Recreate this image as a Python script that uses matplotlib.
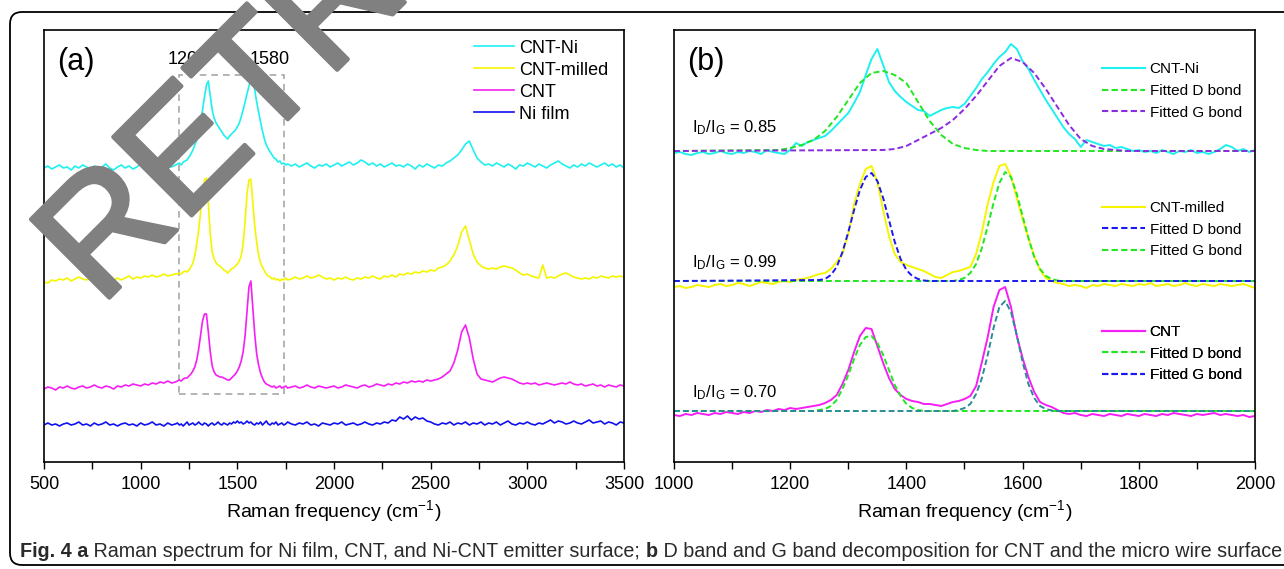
import matplotlib
matplotlib.use("Agg")
import matplotlib.pyplot as plt
import numpy as np
from matplotlib import font_manager
from matplotlib import patheffects
from matplotlib.lines import Line2D
from matplotlib.patches import FancyBboxPatch, Rectangle
from matplotlib.transforms import IdentityTransform

plt.rcParams['font.family'] = ['Liberation Sans', 'DejaVu Sans']
plt.rcParams['mathtext.default'] = 'regular'

# ---------------- panel (a): full spectra, offset intensities (a.u.) ----------------
# sampling: 500-1180 step 20, 1190-1760 step 10, 1780-3500 step 20
raman_a = np.concatenate([np.arange(500, 1181, 20), np.arange(1190, 1761, 10), np.arange(1780, 3501, 20)])

cnt_ni_a = [
    294, 296, 293, 295, 297, 294, 295, 292, 296, 294,
    297, 295, 293, 296, 294, 295, 298, 294, 292, 295,
    297, 294, 296, 293, 295, 298, 295, 294, 297, 295,
    293, 296, 298, 295, 297,
    298, 299, 297, 300, 301, 302, 305, 308, 312, 317,
    322, 330, 340, 352, 365, 377, 381, 366, 352, 344,
    339, 336, 333, 330, 327, 325, 323, 326, 328, 330,
    332, 335, 339, 345, 352, 360, 368, 376, 383, 386,
    372, 360, 350, 340, 331, 323, 317, 313, 310, 307,
    304, 303, 300, 301, 298, 299, 297, 298,
    296, 298, 295, 297, 299, 296, 294, 297, 296, 298,
    295, 297, 299, 296, 298, 300, 297, 299, 302, 300,
    297, 299, 296, 298, 295, 297, 299, 296, 297, 295,
    298, 296, 293, 297, 295, 298, 296, 294, 297, 296,
    299, 301, 304, 307, 312, 318, 321, 312, 304, 300,
    297, 298, 296, 299, 297, 295, 298, 296, 293, 297,
    296, 299, 297, 295, 298, 296, 294, 297, 299, 301,
    298, 296, 294, 297, 295, 298, 296, 299, 297, 295,
    297, 299, 296, 298, 295, 297, 294,
]
cnt_milled_a = [
    180, 179, 182, 181, 183, 182, 184, 181, 183, 185,
    183, 182, 184, 186, 183, 182, 185, 183, 181, 184,
    182, 184, 186, 183, 185, 184, 186, 185, 187, 185,
    186, 188, 186, 187, 188,
    188, 189, 188, 190, 191, 190, 192, 195, 199, 206,
    218, 232, 250, 270, 282, 284, 258, 228, 210, 203,
    199, 197, 196, 194, 192, 191, 189, 191, 193, 194,
    196, 198, 201, 206, 218, 240, 268, 282, 283, 260,
    236, 220, 207, 199, 195, 191, 188, 186, 185, 183,
    184, 182, 183, 181, 183, 182, 184, 182,
    183, 185, 183, 184, 186, 184, 185, 187, 185, 183,
    184, 182, 184, 183, 185, 183, 182, 184, 183, 185,
    184, 186, 184, 183, 186, 185, 187, 185, 188, 187,
    189, 188, 190, 189, 191, 190, 192, 191, 194, 195,
    197, 201, 207, 216, 230, 236, 222, 208, 200, 196,
    194, 193, 194, 193, 195, 196, 195, 194, 192, 189,
    187, 188, 186, 185, 184, 197, 184, 185, 184, 186,
    188, 189, 187, 185, 184, 183, 184, 183, 185, 184,
    186, 185, 184, 186, 185, 186, 185,
]
cnt_a = [
    73, 75, 74, 72, 75, 74, 76, 74, 73, 75,
    76, 74, 75, 77, 75, 74, 76, 75, 73, 76,
    75, 77, 76, 78, 77, 76, 78, 77, 79, 78,
    80, 79, 81, 79, 80,
    81, 82, 81, 83, 84, 84, 86, 88, 91, 95,
    102, 113, 127, 141, 148, 148, 130, 110, 96, 90,
    87, 86, 85, 85, 84, 83, 82, 82, 84, 86,
    88, 91, 95, 101, 110, 126, 150, 175, 181, 155,
    128, 108, 97, 89, 84, 80, 78, 77, 76, 75,
    76, 74, 75, 76, 74, 75, 76, 74,
    75, 76, 74, 75, 77, 75, 74, 76, 75, 74,
    75, 76, 74, 75, 77, 76, 75, 74, 76, 77,
    75, 76, 78, 77, 76, 78, 77, 79, 78, 80,
    79, 81, 80, 81, 80, 82, 81, 82, 83, 85,
    88, 91, 99, 112, 130, 137, 124, 103, 88, 83,
    82, 81, 80, 82, 84, 85, 84, 83, 81, 79,
    78, 79, 78, 79, 77, 78, 79, 78, 77, 78,
    79, 78, 80, 78, 77, 78, 76, 77, 78, 76,
    77, 75, 77, 76, 75, 77, 76,
]
ni_film_a = [
    37, 39, 37, 38, 36, 38, 39, 37, 38, 40,
    37, 38, 36, 39, 37, 38, 40, 37, 38, 36,
    38, 39, 37, 38, 36, 39, 37, 38, 40, 37,
    38, 36, 39, 37, 38,
    39, 37, 38, 36, 38, 40, 37, 38, 39, 37,
    38, 40, 38, 37, 39, 38, 36, 38, 39, 37,
    38, 40, 38, 37, 39, 38, 37, 39, 38, 40,
    39, 41, 39, 40, 38, 39, 41, 39, 40, 38,
    37, 39, 38, 40, 37, 39, 41, 38, 37, 39,
    38, 40, 37, 38, 39, 37, 38, 40,
    38, 37, 39, 38, 40, 37, 38, 36, 39, 38,
    37, 39, 38, 40, 37, 38, 39, 37, 38, 40,
    38, 37, 39, 38, 40, 39, 42, 41, 45, 43,
    46, 42, 45, 43, 44, 41, 40, 38, 37, 39,
    38, 40, 37, 39, 38, 40, 37, 39, 38, 40,
    37, 39, 38, 40, 37, 39, 41, 38, 37, 39,
    38, 40, 38, 37, 39, 38, 40, 42, 39, 41,
    40, 38, 39, 41, 39, 38, 40, 42, 39, 40,
    41, 38, 40, 39, 37, 40, 39,
]
labels_a = ["CNT-Ni", "CNT-milled", "CNT", "Ni film"]
colors_a = ["#1ef0f0", "#f5f500", "#f51ef5", "#1010f0"]

# ---------------- panel (b): D / G band decomposition ----------------
raman_b = np.arange(1000, 2001, 10)

cnt_ni_b = [
    309, 310, 308, 307, 309, 310, 308, 309, 311, 309,
    308, 310, 309, 311, 310, 308, 312, 310, 309, 308,
    312, 319, 316, 320, 322, 324, 326, 331, 337, 343,
    349, 359, 370, 387, 403, 413, 397, 380, 371, 365,
    360, 356, 352, 351, 346, 349, 352, 354, 355, 354,
    358, 366, 374, 383, 390, 398, 405, 410, 418, 413,
    401, 393, 382, 372, 362, 353, 344, 335, 328, 323,
    315, 322, 320, 318, 316, 317, 314, 315, 313, 311,
    312, 310, 311, 309, 312, 310, 308, 311, 310, 312,
    309, 310, 308, 310, 313, 317, 315, 311, 313, 310,
    312,
]
cnt_milled_b = [
    175, 176, 174, 175, 177, 176, 175, 177, 178, 176,
    177, 179, 178, 176, 178, 180, 179, 178, 180, 181,
    180, 182, 183, 184, 186, 188, 189, 193, 200, 208,
    228, 258, 278, 293, 296, 280, 252, 226, 208, 200,
    197, 195, 193, 191, 188, 185, 184, 187, 190, 191,
    193, 195, 208, 230, 258, 280, 296, 298, 286, 264,
    243, 224, 206, 192, 184, 181, 179, 178, 176, 177,
    176, 174, 177, 176, 178, 177, 176, 178, 177, 176,
    178, 177, 179, 176, 177, 178, 176, 177, 179, 177,
    176, 178, 177, 176, 178, 177, 176, 177, 178, 176,
    174,
]
cnt_b = [
    47, 46, 48, 47, 49, 48, 47, 49, 48, 50,
    49, 48, 50, 49, 51, 50, 52, 51, 53, 52,
    54, 53, 54, 55, 56, 57, 59, 62, 67, 78,
    92, 110, 126, 134, 133, 116, 99, 84, 73, 67,
    63, 61, 60, 58, 58, 57, 56, 58, 60, 61,
    63, 66, 76, 100, 125, 155, 172, 175, 155, 126,
    104, 85, 70, 60, 57, 55, 52, 49, 48, 49,
    47, 46, 48, 47, 46, 48, 47, 46, 48, 47,
    46, 48, 47, 46, 48, 47, 49, 48, 47, 46,
    48, 47, 48, 49, 47, 48, 47, 46, 47, 45,
    46,
]

# fitted bands
ni_fit_d_x = [1000, 1180, 1200, 1220, 1240, 1260, 1280, 1300, 1320, 1340, 1360,
              1380, 1400, 1420, 1440, 1460, 1480, 1500, 1520, 1540, 2000]
ni_fit_d_y = [311, 312, 314, 317, 322, 331, 345, 362, 379, 389, 391,
              387, 379, 360, 341, 327, 318, 314, 312, 311, 311]
ni_fit_g_x = [1000, 1360, 1380, 1400, 1420, 1440, 1460, 1480, 1500, 1520, 1540, 1560,
              1580, 1600, 1620, 1640, 1660, 1680, 1700, 1720, 1740, 1760, 1780, 2000]
ni_fit_g_y = [311, 312, 313, 316, 322, 328, 334, 342, 353, 366, 381, 396,
              404, 400, 389, 373, 355, 337, 323, 316, 313, 312, 311, 311]

mil_fit_d_x = [1000, 1250, 1260, 1270, 1280, 1290, 1300, 1310, 1320, 1330, 1340,
               1350, 1360, 1370, 1380, 1390, 1400, 1410, 1420, 1430, 1440, 2000]
mil_fit_d_y = [181, 182, 183, 187, 195, 210, 230, 252, 272, 285, 289,
               281, 264, 242, 220, 203, 192, 186, 183, 181.5, 181, 181]
mil_fit_g_x = [1000, 1480, 1490, 1500, 1510, 1520, 1530, 1540, 1550, 1560, 1570,
               1580, 1590, 1600, 1610, 1620, 1630, 1640, 1650, 1660, 1670, 2000]
mil_fit_g_y = [181, 181, 182, 184, 189, 198, 214, 236, 259, 279, 290,
               285, 268, 246, 224, 205, 193, 186, 183, 181.5, 181, 181]

cnt_fit_d_x = [1000, 1240, 1250, 1260, 1270, 1280, 1290, 1300, 1310, 1320, 1330,
               1340, 1350, 1360, 1370, 1380, 1390, 1400, 1410, 1420, 1430, 2000]
cnt_fit_d_y = [51, 51, 52, 53, 56, 62, 73, 87, 103, 117, 125,
               126, 119, 107, 92, 77, 66, 58, 54, 52, 51, 51]
cnt_fit_g_x = [1000, 1480, 1490, 1500, 1510, 1520, 1530, 1540, 1550, 1560, 1570,
               1580, 1590, 1600, 1610, 1620, 1630, 1640, 1650, 1660, 2000]
cnt_fit_g_y = [51, 51, 52, 54, 58, 68, 84, 107, 134, 155, 161,
               150, 127, 100, 78, 64, 56, 53, 51.5, 51, 51]

ratios = ["0.85", "0.99", "0.70"]

CYAN, YELLOW, MAGENTA = "#1ef0f0", "#f5f500", "#f51ef5"
GREEN, PURPLE, BLUE, TEAL = "#22e622", "#8a2be2", "#1a1af0", "#2a8c96"
DASH = (0, (3, 1.6))


def style_axis(ax, xmin, xmax, major, minor):
    ax.set_xlim(xmin, xmax)
    ax.set_ylim(0, 432)
    ax.set_yticks([])
    ax.set_xticks(np.arange(xmin, xmax + 1, major))
    ax.set_xticks(np.arange(xmin, xmax + 1, minor), minor=True)
    ax.tick_params(axis="x", which="both", direction="out", length=5, width=1.0,
                   labelsize=13, pad=5)
    for s in ax.spines.values():
        s.set_linewidth(1.2)
    ax.set_xlabel("Raman frequency (cm$^{-1}$)", fontsize=14, labelpad=4)


def plot_panel_a(ax):
    for y, lab, col in zip([cnt_ni_a, cnt_milled_a, cnt_a, ni_film_a], labels_a, colors_a):
        ax.plot(raman_a, y, color=col, lw=1.2, label=lab)

    # highlighted D/G window
    ax.add_patch(Rectangle((1200, 68), 540, 319, fill=False, ec="#a8a8a8", lw=1.2,
                           ls=(0, (4, 3))))
    ax.text(1245, 402, "1200", fontsize=13, ha="center", va="center")
    ax.text(1493, 402, "-", fontsize=13, ha="center", va="center", color="#a0a0a0")
    ax.text(1669, 402, "1580", fontsize=13, ha="center", va="center")
    ax.text(567, 400, "(a)", fontsize=22, va="center")

    ax.legend(loc="upper left", bbox_to_anchor=(0.742, 0.978), frameon=False, fontsize=13,
              handlelength=2.2, handletextpad=0.3, labelspacing=0.28,
              borderaxespad=0, borderpad=0)
    style_axis(ax, 500, 3500, 500, 250)


def plot_panel_b(ax):
    ax.plot(raman_b, cnt_ni_b, color=CYAN, lw=1.4)
    ax.plot(ni_fit_d_x, ni_fit_d_y, color=GREEN, lw=1.4, ls=DASH)
    ax.plot(ni_fit_g_x, ni_fit_g_y, color=PURPLE, lw=1.4, ls=DASH)

    ax.plot(raman_b, cnt_milled_b, color=YELLOW, lw=1.4)
    ax.plot(mil_fit_g_x, mil_fit_g_y, color=GREEN, lw=1.4, ls=DASH)
    ax.plot(mil_fit_d_x, mil_fit_d_y, color=BLUE, lw=1.4, ls=DASH)

    ax.plot(raman_b, cnt_b, color=MAGENTA, lw=1.4)
    ax.plot(cnt_fit_d_x, cnt_fit_d_y, color=GREEN, lw=1.4, ls=DASH)
    ax.plot(cnt_fit_g_x, cnt_fit_g_y, color=TEAL, lw=1.4, ls=DASH)

    ax.text(1022, 400, "(b)", fontsize=22, va="center")
    for r, yv in zip(ratios, [334, 199, 69]):
        ax.text(1031, yv, r"I$_\mathregular{D}$/I$_\mathregular{G}$ = " + r, fontsize=12,
                va="center")

    legend_sets = [
        ([("CNT-Ni", CYAN, "-"), ("Fitted D bond", GREEN, DASH), ("Fitted G bond", PURPLE, DASH)], 0.925),
        ([("CNT-milled", YELLOW, "-"), ("Fitted D bond", BLUE, DASH), ("Fitted G bond", GREEN, DASH)], 0.604),
        ([("CNT", MAGENTA, "-"), ("Fitted D bond", GREEN, DASH), ("Fitted G bond", BLUE, DASH)], 0.317),
    ]
    for entries, top in legend_sets:
        handles = [Line2D([], [], color=c, ls=s, lw=1.5) for _, c, s in entries]
        leg = ax.legend(handles, [e[0] for e in entries], loc="upper left",
                        bbox_to_anchor=(0.737, top), frameon=False, fontsize=11,
                        handlelength=2.8, handletextpad=0.3, labelspacing=0.5,
                        borderaxespad=0, borderpad=0)
        ax.add_artist(leg)
    style_axis(ax, 1000, 2000, 200, 100)


def add_caption(fig):
    names = {f.name for f in font_manager.fontManager.ttflist}
    family = "Liberation Sans Narrow" if "Liberation Sans Narrow" in names else "Liberation Sans"
    pieces = [("Fig. 4 a", "bold"),
              (" Raman spectrum for Ni film, CNT, and Ni-CNT emitter surface; ", "normal"),
              ("b", "bold"),
              (" D band and G band decomposition for CNT and the micro wire surface", "normal")]
    renderer = fig.canvas.get_renderer()

    def draw(size):
        x = 20
        texts = []
        for s, w in pieces:
            t = fig.text(x, 12, s, transform=IdentityTransform(), fontsize=size,
                         fontweight=w, family=family, va="baseline", ha="left",
                         color="#2a2a2a")
            x = t.get_window_extent(renderer).x1
            texts.append(t)
        return texts, x - 20

    # fit the caption to the width used in the reference
    texts, total = draw(13.0)
    for t in texts:
        t.remove()
    draw(min(13.0 * 1255 / total, 16.0))


def main():
    fig = plt.figure(figsize=(12.84, 5.69), dpi=100)
    ax_a = fig.add_axes([44 / 1284, 107 / 569, 580 / 1284, 432 / 569])
    ax_b = fig.add_axes([674 / 1284, 107 / 569, 581 / 1284, 432 / 569])

    plot_panel_a(ax_a)
    plot_panel_b(ax_b)

    # rounded frame around the figure
    fig.add_artist(FancyBboxPatch((10, 4), 1300, 553, boxstyle="round,pad=0,rounding_size=12",
                                  transform=IdentityTransform(), fill=False, ec="black", lw=1.3))
    add_caption(fig)

    # retraction watermark
    fig.text(100, 262, "RETRACTED", transform=IdentityTransform(), rotation=45,
             rotation_mode="anchor", ha="left", va="baseline", fontsize=116,
             color="#808080", zorder=20,
             path_effects=[patheffects.withStroke(linewidth=3, foreground="#808080")])

    fig.savefig("out.png", dpi=100)


if __name__ == "__main__":
    main()
